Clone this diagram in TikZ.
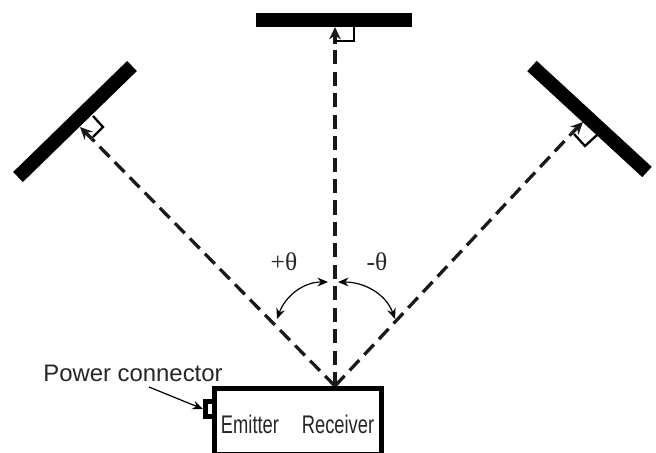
\documentclass[tikz,border=0pt]{standalone}
\usepackage{fontspec}
\setmainfont{Liberation Sans}
\newfontfamily\narrowfont[FakeStretch=0.72]{Liberation Sans}
\newfontfamily\thetafont{Liberation Serif}
\usetikzlibrary{calc, arrows.meta}
\tikzset{
	mirror/.style={line width=14*0.5669pt},
	beam/.style={line width=3.3*0.5669pt, dash pattern=on 8pt off 4.2pt, black!90},
	beamtip/.style={line width=3.3*0.5669pt, -{Stealth[length=7pt,width=6.5pt]}, black!90},
	square/.style={line width=2.3*0.5669pt},
	swing/.style={line width=1.2*0.5669pt, {Stealth[length=6pt,width=5pt]}-{Stealth[length=6pt,width=5pt]}},
	lab/.style={font=\fontsize{13.6}{15}\selectfont, text=black!85, inner sep=0pt},
	tall/.style={font=\fontsize{14.5}{15}\selectfont, text=black!85, inner sep=0pt}
}
\begin{document}
\begin{tikzpicture}[x=0.02cm,y=-0.02cm]
	\useasboundingbox (0,0) rectangle (656,453);
	
	\coordinate (o) at (335,386);
	\coordinate (l) at (80,127);
	\coordinate (t) at (335,27);
	\coordinate (r) at (583,122);
	\coordinate (lb) at (92,139);
	\coordinate (tb) at (335,44);
	\coordinate (rb) at (572,133);
	
	% miroirs
	\draw[mirror] (132,66) -- (18,177);
	\draw[mirror] (256,20) -- (412,20);
	\draw[mirror] (532,66) -- (647,172);
	
	% faisceaux
	\draw[beam] (o) -- (lb);
	\draw[beam] (o) -- (tb);
	\draw[beam] (o) -- (rb);
	\draw[beamtip] (lb) -- (l);
	\draw[beamtip] (tb) -- (t);
	\draw[beamtip] (rb) -- (r);
	
	% angles droits
	\draw[square] (93,116) -- (103,127) -- (93,137);
	\draw[square] (354,27) -- (354,41) -- (335,41);
	\draw[square] (597,135) -- (585,146) -- (574,134);
	
	% boitier
	\draw[line width=5*0.5669pt] (214.5,388.5) rectangle (381.5,454);
	\draw[line width=5*0.5669pt] (212.5,401.5) -- (205.5,401.5) -- (205.5,416.5) -- (212.5,416.5);
	
	% angles
	\draw[swing] (277,319) to[out=70, in=180] (328,282);
	\draw[swing] (395,319) to[out=110, in=0] (338,282);
	
	% textes
	\node[lab] (power) at (133,373) {Power connector};
	\coordinate (c) at (203,409);
	\draw[line width=1.2*0.5669pt, -{Stealth[length=6pt,width=5pt]}] (149,387) -- (c);
	\node[tall] (emitter) at (250,424) {\narrowfont Emitter};
	\node[tall] (receiver) at (338,424) {\narrowfont Receiver};
	\node[tall] (plus) at (284,262) {\thetafont +θ};
	\node[tall] (minus) at (377,262) {\thetafont -θ};
\end{tikzpicture}
\end{document}
